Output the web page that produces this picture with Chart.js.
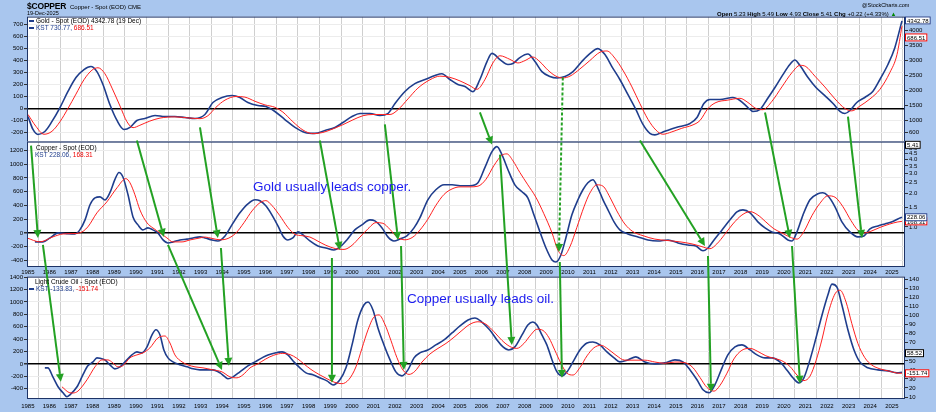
<!DOCTYPE html>
<html><head><meta charset="utf-8">
<script src="https://cdn.jsdelivr.net/npm/chart.js@4.4.1/dist/chart.umd.min.js"></script>
<style>
html,body{margin:0;padding:0;}
body{width:936px;height:412px;background:#a9c6ee;position:relative;overflow:hidden;font-family:"Liberation Sans",Arial,sans-serif;}
canvas{position:absolute;left:0;}
.t{position:absolute;white-space:nowrap;color:#000;line-height:1;z-index:6;}
.b{font-weight:bold;}
.sw{display:inline-block;width:5px;height:2px;background:#1f3d8c;vertical-align:middle;margin-right:2px;}
.ann{position:absolute;white-space:nowrap;color:#1c1cf0;font-size:13.5px;z-index:6;line-height:1;}
</style></head><body>

<div class="t b" style="left:27px;top:2px;font-size:8.5px;letter-spacing:-0.2px;">$COPPER</div>
<div class="t" style="left:70px;top:4px;font-size:6px;">Copper - Spot (EOD) CME</div>
<div class="t" style="left:27px;top:11px;font-size:5.5px;">19-Dec-2025</div>
<div class="t" style="left:862px;top:3px;font-size:5.5px;">@StockCharts.com</div>
<div class="t" style="left:717px;top:11px;font-size:6px;"><span class="b">Open</span> 5.23 <span class="b">High</span> 5.49 <span class="b">Low</span> 4.93 <span class="b">Close</span> 5.41 <span class="b">Chg</span> +0.22 (+4.33%) <span style="color:#080">&#9650;</span></div>

<div class="t" style="left:29px;top:18px;font-size:6.5px;"><span class="sw"></span>Gold - Spot (EOD) 4342.78 (19 Dec)</div>
<div class="t" style="left:29px;top:25px;font-size:6.5px;"><span class="sw"></span><span style="color:#1f3d8c">KST 730.77,</span> <span style="color:#e00">686.51</span></div>
<div class="t" style="left:36px;top:145px;font-size:6.5px;">Copper - Spot (EOD)</div>
<div class="t" style="left:35px;top:152px;font-size:6.5px;"><span style="color:#1f3d8c">KST 228.06,</span> <span style="color:#e00">168.31</span></div>
<div class="t" style="left:35px;top:279px;font-size:6.5px;">Light Crude Oil - Spot (EOD)</div>
<div class="t" style="left:29px;top:286px;font-size:6.5px;"><span class="sw"></span><span style="color:#1f3d8c">KST -133.83,</span> <span style="color:#e00">-151.74</span></div>

<div class="ann" style="left:253px;top:180px;">Gold usually leads copper.</div>
<div class="ann" style="left:407px;top:292px;">Copper usually leads oil.</div>

<canvas id="c1" width="936" height="125" style="top:17px"></canvas>
<canvas id="c2" width="936" height="133" style="top:143px"></canvas>
<canvas id="c3" width="936" height="135" style="top:277px"></canvas>
<canvas id="ov" width="936" height="412" style="top:0;z-index:5;pointer-events:none"></canvas>

<script>
// ---------------- DATA ----------------
const yearLabels = [1985,1986,1987,1988,1989,1990,1991,1992,1993,1994,1995,1996,1997,1998,1999,2000,2001,2002,2003,2004,2005,2006,2007,2008,2009,2010,2011,2012,2013,2014,2015,2016,2017,2018,2019,2020,2021,2022,2023,2024,2025,2026];

const goldKstTicks = [-200,-100,0,100,200,300,400,500,600,700];
const copperKstTicks = [-400,-200,0,200,400,600,800,1000,1200];
const oilKstTicks = [-400,-200,0,200,400,600,800,1000,1200,1400];
const goldPriceTicks = [600,1000,1500,2000,2500,3000,3500,4000];
const copperPriceTicks = [1.0,1.5,2.0,2.5,3.0,3.5,4.0,4.5,5.0];
const oilPriceTicks = [10,20,30,40,50,60,70,80,90,100,110,120,130,140];

// Gold KST (blue) and signal (red)
const goldKstYears = [1985.51,1985.74,1985.97,1986.29,1986.62,1986.99,1987.36,1987.73,1988.10,1988.42,1988.70,1988.98,1989.30,1989.63,1989.95,1990.23,1990.55,1990.92,1991.39,1991.85,1992.31,1992.78,1993.24,1993.70,1994.07,1994.49,1994.95,1995.32,1995.69,1996.15,1996.52,1996.94,1997.40,1997.87,1998.33,1998.79,1999.26,1999.72,2000.09,2000.51,2000.88,2001.34,2001.80,2002.17,2002.50,2002.96,2003.42,2003.89,2004.35,2004.67,2005.04,2005.41,2005.74,2006.11,2006.43,2006.76,2006.99,2007.36,2007.73,2007.96,2008.28,2008.65,2008.98,2009.30,2009.67,2010.00,2010.37,2010.74,2011.15,2011.52,2011.89,2012.22,2012.54,2012.91,2013.28,2013.65,2013.98,2014.30,2014.53,2014.86,2015.23,2015.69,2016.16,2016.48,2016.80,2017.08,2017.54,2018.14,2018.47,2018.84,2019.07,2019.40,2019.72,2020.09,2020.46,2020.78,2021.01,2021.25,2021.62,2021.99,2022.40,2022.78,2023.10,2023.33,2023.56,2023.88,2024.25,2024.62,2024.95,2025.32,2025.64,2025.97];
const goldKst = [-67,-175,-217,-192,-108,8,142,258,325,350,308,200,33,-100,-175,-158,-100,-83,-58,-67,-67,-75,-83,-50,50,92,108,92,50,25,17,-25,-92,-158,-200,-208,-183,-158,-117,-67,-42,-42,-58,-42,42,142,208,242,275,290,242,200,183,140,242,392,460,408,367,375,425,455,392,308,267,255,267,308,392,458,500,450,350,242,117,-8,-133,-208,-220,-200,-175,-150,-125,-75,42,75,75,92,67,8,-25,-8,75,175,283,367,405,358,258,175,108,42,-25,-42,-17,50,92,142,242,367,508,731];
const goldSigYears = [1985.51,1985.88,1986.25,1986.62,1986.99,1987.36,1987.73,1988.10,1988.47,1988.75,1989.07,1989.40,1989.77,1990.09,1990.37,1990.69,1991.15,1991.62,1992.31,1993.01,1993.47,1993.84,1994.21,1994.63,1995.14,1995.55,1996.02,1996.48,1996.94,1997.31,1997.77,1998.24,1998.70,1999.16,1999.63,2000.09,2000.55,2001.02,2001.48,2001.94,2002.27,2002.64,2003.10,2003.56,2004.12,2004.58,2005.04,2005.51,2005.97,2006.29,2006.66,2007.03,2007.36,2007.82,2008.19,2008.52,2008.88,2009.21,2009.58,2009.95,2010.27,2010.60,2011.06,2011.52,2011.99,2012.31,2012.68,2013.05,2013.47,2013.84,2014.21,2014.58,2014.90,2015.32,2015.78,2016.25,2016.62,2016.99,2017.36,2017.91,2018.47,2018.84,2019.21,2019.53,2019.95,2020.41,2020.88,2021.25,2021.52,2021.94,2022.40,2022.87,2023.33,2023.65,2024.02,2024.49,2024.95,2025.41,2025.74,2025.97];
const goldSig = [-50,-150,-215,-190,-110,0,120,240,320,340,290,170,20,-110,-160,-140,-105,-80,-70,-80,-85,-60,10,70,100,95,60,30,10,-30,-110,-180,-210,-200,-170,-135,-95,-60,-50,-50,-50,-10,80,170,240,270,260,230,190,160,240,380,440,410,380,400,430,390,320,270,255,270,330,400,470,480,420,320,180,40,-90,-180,-215,-195,-165,-140,-100,0,50,70,85,50,0,-10,60,180,300,360,350,270,180,80,0,-20,20,80,160,300,450,687];

// Copper KST (blue) and signal (red)
const copperKstYears = [1985.83,1986.20,1986.53,1986.90,1987.31,1987.68,1987.91,1988.15,1988.38,1988.61,1988.84,1989.07,1989.30,1989.53,1989.72,1989.90,1990.14,1990.37,1990.60,1990.83,1991.06,1991.29,1991.52,1991.76,1991.99,1992.22,1992.54,1992.87,1993.15,1993.47,1993.70,1994.03,1994.30,1994.63,1994.95,1995.32,1995.69,1996.02,1996.25,1996.52,1996.80,1997.08,1997.31,1997.54,1997.77,1998.01,1998.24,1998.56,1998.93,1999.30,1999.67,1999.95,2000.27,2000.64,2000.97,2001.34,2001.57,2001.90,2002.17,2002.45,2002.73,2003.05,2003.38,2003.65,2004.02,2004.39,2004.77,2005.14,2005.51,2005.97,2006.34,2006.66,2006.99,2007.22,2007.45,2007.73,2008.05,2008.38,2008.65,2008.93,2009.21,2009.49,2009.77,2009.95,2010.18,2010.41,2010.69,2010.97,2011.20,2011.43,2011.66,2011.89,2012.13,2012.36,2012.64,2012.91,2013.28,2013.75,2014.21,2014.67,2015.14,2015.60,2016.06,2016.43,2016.76,2016.99,2017.27,2017.64,2018.01,2018.33,2018.61,2018.94,2019.30,2019.63,2019.95,2020.32,2020.69,2020.88,2021.11,2021.39,2021.71,2022.08,2022.31,2022.54,2022.87,2023.19,2023.56,2023.93,2024.21,2024.49,2024.86,2025.18,2025.51,2025.78,2025.97];
const copperKst = [-130,-130,-73,0,-10,-15,44,190,410,510,525,480,585,775,880,818,555,233,117,44,73,44,0,-102,-146,-131,-102,-90,-73,-58,-73,-102,-117,-44,117,292,423,482,467,394,263,102,-44,-102,-73,15,-29,-117,-190,-219,-248,-204,-102,44,117,190,175,73,-58,-117,-88,-44,73,219,482,628,700,700,686,686,730,950,1183,1256,1139,920,700,600,511,263,15,-219,-394,-423,-321,-73,263,482,628,730,774,657,482,336,161,44,-15,-58,-102,-117,-102,-146,-175,-190,-260,-219,-102,44,190,307,336,292,161,73,15,-15,-102,-117,15,263,482,570,584,540,380,161,15,-58,-44,58,102,131,161,204,228];
const copperSigYears = [1985.46,1986.06,1986.66,1987.13,1987.59,1987.91,1988.28,1988.70,1989.16,1989.63,1990.04,1990.23,1990.46,1990.69,1991.02,1991.29,1991.62,1991.94,1992.22,1992.64,1993.01,1993.47,1993.70,1994.03,1994.40,1994.77,1995.14,1995.51,1995.88,1996.25,1996.52,1996.80,1997.17,1997.54,1997.87,1998.19,1998.56,1998.93,1999.30,1999.76,2000.14,2000.51,2000.88,2001.25,2001.62,2001.94,2002.27,2002.59,2002.96,2003.33,2003.65,2004.02,2004.39,2004.77,2005.14,2005.51,2005.97,2006.34,2006.71,2007.08,2007.45,2007.68,2007.96,2008.28,2008.65,2009.02,2009.39,2009.77,2010.04,2010.32,2010.60,2010.92,2011.25,2011.52,2011.85,2012.13,2012.45,2012.77,2013.14,2013.51,2013.98,2014.53,2015.09,2015.69,2016.25,2016.71,2017.08,2017.40,2017.77,2018.14,2018.56,2018.94,2019.30,2019.67,2020.04,2020.41,2020.78,2021.11,2021.43,2021.80,2022.17,2022.54,2022.87,2023.24,2023.61,2023.93,2024.25,2024.58,2024.95,2025.41,2025.78,2025.97];
const copperSig = [-73,-130,-58,-15,-10,0,88,292,452,657,790,730,555,336,146,73,0,-73,-131,-131,-102,-73,-60,-80,-100,-80,0,150,320,440,470,400,250,80,-20,-40,-60,-120,-180,-230,-240,-180,-60,60,150,140,50,-60,-100,-60,40,200,400,560,640,670,670,680,780,980,1130,1150,1050,880,700,520,280,0,-250,-330,-200,80,380,580,700,680,520,320,130,20,-40,-90,-110,-130,-160,-200,-230,-160,-20,130,260,310,260,160,60,0,-60,-90,20,250,430,540,520,380,180,40,0,30,80,130,160,168];

// Crude oil KST (blue) and signal (red)
const oilKstYears = [1986.29,1986.43,1986.66,1986.90,1987.13,1987.31,1987.45,1987.78,1988.05,1988.28,1988.52,1988.70,1988.84,1989.07,1989.30,1989.53,1989.77,1990.00,1990.32,1990.55,1990.78,1991.02,1991.25,1991.43,1991.62,1991.80,1991.99,1992.22,1992.54,1992.87,1993.15,1993.47,1994.07,1994.40,1994.63,1994.77,1995.00,1995.32,1995.69,1996.02,1996.34,1996.62,1996.94,1997.27,1997.54,1997.82,1998.10,1998.38,1998.70,1999.02,1999.35,1999.63,1999.95,2000.23,2000.51,2000.78,2001.06,2001.25,2001.48,2001.71,2001.99,2002.27,2002.54,2002.82,2003.10,2003.38,2003.65,2004.02,2004.39,2004.77,2005.14,2005.51,2005.88,2006.20,2006.52,2006.89,2007.22,2007.50,2007.77,2008.05,2008.38,2008.65,2008.88,2009.07,2009.30,2009.53,2009.77,2010.00,2010.23,2010.46,2010.74,2011.06,2011.39,2011.66,2011.99,2012.31,2012.64,2012.91,2013.28,2013.65,2014.07,2014.53,2014.99,2015.46,2015.83,2016.16,2016.48,2016.76,2017.04,2017.31,2017.64,2017.91,2018.24,2018.56,2018.94,2019.26,2019.63,2019.95,2020.32,2020.64,2020.92,2021.20,2021.43,2021.71,2021.99,2022.27,2022.54,2022.73,2022.96,2023.19,2023.47,2023.75,2024.02,2024.39,2024.86,2025.32,2025.74,2025.97];
const oilKst = [-64,-64,-210,-370,-467,-531,-500,-370,-177,-32,32,97,90,64,-16,-80,-48,32,145,193,177,274,467,550,467,225,97,32,-16,-48,-80,-97,-97,-145,-210,-241,-210,-129,-32,32,97,145,177,193,145,32,-64,-145,-177,-225,-274,-340,-257,-64,306,708,950,998,869,580,306,64,-129,-193,-97,97,177,225,306,386,499,612,708,741,676,547,386,274,225,274,467,628,676,628,467,306,64,-129,-193,-129,32,225,338,354,306,193,97,32,64,113,32,0,16,64,32,-97,-257,-418,-467,-338,-64,145,274,306,225,145,97,97,32,-97,-225,-306,-225,64,418,789,1111,1288,1240,950,547,225,32,-64,-97,-113,-145,-134];
const oilSigYears = [1987.08,1987.45,1987.59,1987.82,1988.24,1988.61,1988.93,1989.21,1989.44,1989.67,1989.90,1990.23,1990.55,1990.83,1991.15,1991.52,1991.85,1992.08,1992.31,1992.64,1992.91,1993.24,1993.61,1994.07,1994.49,1994.86,1995.18,1995.46,1995.79,1996.15,1996.52,1996.89,1997.31,1997.64,1997.96,1998.28,1998.61,1998.98,1999.35,1999.72,2000.04,2000.37,2000.69,2000.97,2001.25,2001.53,2001.76,2002.03,2002.31,2002.59,2002.87,2003.15,2003.42,2003.75,2004.12,2004.49,2004.86,2005.23,2005.60,2005.97,2006.34,2006.71,2007.08,2007.45,2007.82,2008.14,2008.47,2008.79,2009.07,2009.35,2009.63,2009.90,2010.18,2010.46,2010.74,2011.06,2011.39,2011.71,2012.04,2012.36,2012.73,2013.14,2013.61,2014.07,2014.53,2014.99,2015.46,2015.92,2016.29,2016.62,2016.94,2017.27,2017.54,2017.87,2018.19,2018.56,2018.94,2019.30,2019.67,2020.04,2020.41,2020.78,2021.11,2021.43,2021.71,2021.99,2022.27,2022.54,2022.87,2023.10,2023.38,2023.65,2023.93,2024.25,2024.58,2024.95,2025.41,2025.78,2025.97];
const oilSig = [-370,-467,-470,-440,-257,-48,64,64,16,-48,-30,97,145,177,257,418,450,338,145,32,-16,-48,-64,-97,-129,-210,-225,-177,-64,0,80,140,170,150,90,0,-90,-170,-240,-300,-320,-250,-50,250,550,760,790,640,380,100,-100,-170,-120,30,160,250,330,430,540,640,680,640,520,380,280,250,330,470,560,540,420,220,10,-150,-180,-60,130,260,300,240,140,60,60,60,30,10,30,20,-60,-220,-380,-440,-350,-150,80,220,250,200,130,90,50,-40,-180,-270,-200,50,400,800,1130,1190,1000,650,330,100,-20,-80,-120,-150,-152];

// Latest values shown in the right-hand boxes
const lastGoldPrice = 4342.78, lastCopperPrice = 5.41, lastOilPrice = 58.52;

// Lead/lag arrows: [fromPanel, fromYear, fromValue, toPanel, toYear, toValue, dashed]
const arrows = [
 [1,1985.65,1270, 1,1985.97,-73, 0],
 [1,1986.20,-175, 2,1987.03,-290, 0],
 [0,1990.55,-267, 1,1991.80,-58, 0],
 [1,1991.99,-175, 2,1994.49,-97, 0],
 [0,1993.47,-158, 1,1994.30,-73, 0],
 [1,1994.44,-219, 2,1994.81,-32, 0],
 [0,1999.02,-267, 1,1999.95,-248, 0],
 [1,1999.58,-365, 2,1999.58,-306, 0],
 [0,2002.03,-133, 1,2002.64,-102, 0],
 [1,2002.78,-190, 2,2002.91,-97, 0],
 [0,2006.43,-33, 1,2006.99,1285, 0],
 [1,2007.36,1139, 2,2007.91,306, 0],
 [0,2010.27,258, 1,2010.09,-277, 1],
 [1,2010.13,-423, 2,2010.23,-225, 0],
 [0,2013.84,-267, 1,2016.85,-190, 0],
 [1,2016.99,-336, 2,2017.13,-450, 0],
 [0,2019.63,-33, 1,2020.78,-73, 0],
 [1,2020.88,-190, 2,2021.25,-322, 0],
 [0,2023.47,-67, 1,2024.12,-73, 0]
];

// ---------------- CHARTS ----------------
const FONT = "'Liberation Sans', Arial, Helvetica, sans-serif";
const X_MIN = 1985.463, X_MAX = 2026.111;
const BLUE = '#1f3d8c', RED = '#ff2020', GREEN = '#23a123';

const panelBg = {
  id: 'panelBg',
  beforeDraw(c) {
    const a = c.chartArea, ctx = c.ctx;
    ctx.save(); ctx.fillStyle = '#ffffff';
    ctx.fillRect(a.left, a.top, a.right - a.left, a.bottom - a.top); ctx.restore();
  },
  afterDraw(c) {
    const a = c.chartArea, ctx = c.ctx;
    ctx.save(); ctx.strokeStyle = '#1d3366'; ctx.lineWidth = 1;
    ctx.strokeRect(a.left + 0.5, a.top + 0.5, a.right - a.left - 1, a.bottom - a.top - 1); ctx.restore();
  }
};

function series(xs, ys) { return xs.map((x, i) => ({ x: x, y: ys[i] })); }

function panelConfig(opt) {
  const xTicks = [];
  yearLabels.forEach(y => {
    if (y >= X_MIN && y <= X_MAX) xTicks.push(y);
    if (y + 0.5 >= X_MIN && y + 0.5 <= X_MAX) xTicks.push(y + 0.5);
  });
  xTicks.sort((a, b) => a - b);
  return {
    type: 'line',
    data: { datasets: [
      { data: series(opt.sigX, opt.sig), borderColor: RED, borderWidth: 1, pointRadius: 0, cubicInterpolationMode: 'monotone', yAxisID: 'y' },
      { data: series(opt.kstX, opt.kst), borderColor: BLUE, borderWidth: 1.6, pointRadius: 0, cubicInterpolationMode: 'monotone', yAxisID: 'y' }
    ] },
    options: {
      responsive: false, maintainAspectRatio: false, animation: false, events: [],
      layout: { padding: 0 },
      plugins: { legend: { display: false }, tooltip: { enabled: false } },
      scales: {
        x: {
          type: 'linear', min: X_MIN, max: X_MAX, position: 'bottom',
          afterBuildTicks: s => { s.ticks = xTicks.map(v => ({ value: v })); },
          afterFit: s => { s.height = opt.xH; },
          grid: { color: c => (c.tick && Number.isInteger(c.tick.value)) ? '#cfcfcf' : 'rgba(0,0,0,0)', drawTicks: false, lineWidth: 1 },
          border: { display: false },
          ticks: { display: opt.showYears, autoSkip: false, maxRotation: 0, minRotation: 0, padding: opt.xPad,
            font: { size: 6, family: FONT }, color: '#000',
            callback: v => Number.isInteger(v) ? '' : String(Math.round(v - 0.5)) }
        },
        y: {
          position: 'left', min: opt.yMin, max: opt.yMax,
          afterBuildTicks: s => { s.ticks = opt.yTicks.map(v => ({ value: v })); },
          afterFit: s => { s.width = 27; },
          grid: { color: c => (c.tick && c.tick.value === 0) ? '#000000' : '#ececec',
                  lineWidth: c => (c.tick && c.tick.value === 0) ? 1.5 : 1,
                  tickLength: 3, tickColor: '#333' },
          border: { display: false },
          ticks: { autoSkip: false, font: { size: 6, family: FONT }, color: '#000', padding: 1, callback: v => String(v) }
        },
        p: {
          type: opt.pType, position: 'right', min: opt.pMin, max: opt.pMax,
          afterBuildTicks: s => { s.ticks = opt.pTicks.map(v => ({ value: v })); },
          afterFit: s => { s.width = 31; },
          grid: { drawOnChartArea: false, tickLength: 3, tickColor: '#333', lineWidth: 1 },
          border: { display: false },
          ticks: { autoSkip: false, font: { size: 6, family: FONT }, color: '#000', padding: 1, callback: v => opt.pFmt(v) }
        }
      }
    },
    plugins: [panelBg]
  };
}

const panels = [
  { id: 'c1', top: 17, bottom: 143, opt: { kstX: goldKstYears, kst: goldKst, sigX: goldSigYears, sig: goldSig,
    yMin: -283, yMax: 767, yTicks: goldKstTicks, xH: 0, showYears: false, xPad: 0,
    pType: 'linear', pMin: 263, pMax: 4471, pTicks: goldPriceTicks, pFmt: v => String(v) } },
  { id: 'c2', top: 142, bottom: 267, opt: { kstX: copperKstYears, kst: copperKst, sigX: copperSigYears, sig: copperSig,
    yMin: -496, yMax: 1329, yTicks: copperKstTicks, xH: 9, showYears: true, xPad: 2,
    pType: 'logarithmic', pMin: 0.438, pMax: 5.78, pTicks: copperPriceTicks, pFmt: v => Number(v).toFixed(1) } },
  { id: 'c3', top: 277, bottom: 399, opt: { kstX: oilKstYears, kst: oilKst, sigX: oilSigYears, sig: oilSig,
    yMin: -567, yMax: 1409, yTicks: oilKstTicks, xH: 13, showYears: true, xPad: 4,
    pType: 'linear', pMin: 7.8, pMax: 143.3, pTicks: oilPriceTicks, pFmt: v => String(v) } }
];

// Build each panel, measure the automatic padding, then rebuild so the plot area lands exactly where wanted.
const tops = [];
const charts = panels.map((p, i) => {
  const cv = document.getElementById(p.id);
  const h0 = cv.height;
  let ch = new Chart(cv, panelConfig(p.opt));
  const padTop = ch.chartArea.top, padBottom = h0 - ch.chartArea.bottom;
  ch.destroy();
  const newH = Math.round(padTop + (p.bottom - p.top) + padBottom);
  cv.width = 936; cv.height = newH;
  cv.style.width = '936px'; cv.style.height = newH + 'px';
  const t = Math.round(p.top - padTop);
  cv.style.top = t + 'px';
  tops[i] = t;
  return new Chart(cv, panelConfig(p.opt));
});

// ---------------- OVERLAY: arrows + value boxes ----------------
const ov = document.getElementById('ov').getContext('2d');
function px(p, year, val) {
  const c = charts[p];
  return [c.scales.x.getPixelForValue(year), c.scales.y.getPixelForValue(val) + tops[p]];
}
function drawArrow(ctx, x1, y1, x2, y2, dashed) {
  const ang = Math.atan2(y2 - y1, x2 - x1), hl = 8, hw = 4;
  const bx = x2 - hl * Math.cos(ang), by = y2 - hl * Math.sin(ang);
  ctx.save();
  ctx.strokeStyle = GREEN; ctx.fillStyle = GREEN; ctx.lineWidth = 2;
  ctx.setLineDash(dashed ? [3, 2] : []);
  ctx.beginPath(); ctx.moveTo(x1, y1); ctx.lineTo(bx, by); ctx.stroke();
  ctx.setLineDash([]);
  ctx.beginPath(); ctx.moveTo(x2, y2);
  ctx.lineTo(bx + hw * Math.sin(ang), by - hw * Math.cos(ang));
  ctx.lineTo(bx - hw * Math.sin(ang), by + hw * Math.cos(ang));
  ctx.closePath(); ctx.fill();
  ctx.restore();
}
arrows.forEach(a => {
  const s = px(a[0], a[1], a[2]), e = px(a[3], a[4], a[5]);
  drawArrow(ov, s[0], s[1], e[0], e[1], a[6]);
});

function valueBox(ctx, text, y, border, color) {
  ctx.save();
  ctx.font = '6px ' + FONT;
  const w = ctx.measureText(text).width + 4;
  ctx.fillStyle = '#fff'; ctx.fillRect(905, y - 4, w, 8);
  ctx.strokeStyle = border; ctx.lineWidth = 1; ctx.strokeRect(905.5, y - 3.5, w - 1, 7);
  ctx.fillStyle = color; ctx.textBaseline = 'middle'; ctx.fillText(text, 907, y + 0.5);
  ctx.restore();
}
function rightPx(p, v) { return charts[p].scales.p.getPixelForValue(v) + tops[p]; }
function leftPx(p, v) { return charts[p].scales.y.getPixelForValue(v) + tops[p]; }

const gb = rightPx(0, lastGoldPrice);
valueBox(ov, '4342.78', gb, '#1f3d8c', '#000');
valueBox(ov, '686.51', Math.max(leftPx(0, goldSig[goldSig.length - 1]), gb + 17), '#e00', '#000');
valueBox(ov, '168.31', leftPx(1, copperSig[copperSig.length - 1]), '#e00', '#000');
valueBox(ov, '228.06', leftPx(1, copperKst[copperKst.length - 1]), '#1f3d8c', '#000');
valueBox(ov, '5.41', rightPx(1, lastCopperPrice), '#000', '#000');
valueBox(ov, '58.52', rightPx(2, lastOilPrice), '#000', '#000');
valueBox(ov, '-151.74', leftPx(2, oilSig[oilSig.length - 1]), '#e00', '#000');
</script>
</body></html>
